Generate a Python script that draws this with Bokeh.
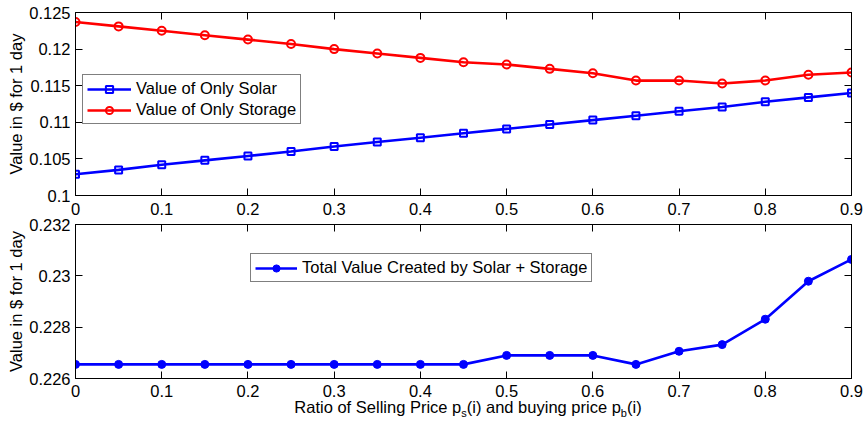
from bokeh.plotting import figure
from bokeh.models import (LinearAxis, FixedTicker, Range1d, Legend, LegendItem,
                          Div, Spacer, CustomLabelingPolicy)
from bokeh.layouts import column, row
from bokeh.embed import file_html
from bokeh.resources import INLINE

# ---------------- data ----------------
ratio = [0.0, 0.05, 0.1, 0.15, 0.2, 0.25, 0.3, 0.35, 0.4, 0.45,
         0.5, 0.55, 0.6, 0.65, 0.7, 0.75, 0.8, 0.85, 0.9]
solar = [0.1029, 0.1035, 0.1042, 0.1048, 0.1054, 0.1060, 0.1067, 0.1073, 0.1079,
         0.1085, 0.1091, 0.1097, 0.1103, 0.1109, 0.1115, 0.1121, 0.1128, 0.1134, 0.1140]
storage = [0.1237, 0.1231, 0.1225, 0.1219, 0.1213, 0.1207, 0.1200, 0.1194, 0.1188,
           0.1182, 0.1179, 0.1173, 0.1167, 0.1157, 0.1157, 0.1153, 0.1157, 0.1165, 0.1168]
total = [0.22655, 0.22655, 0.22655, 0.22655, 0.22655, 0.22655, 0.22655, 0.22655,
         0.22655, 0.22655, 0.2269, 0.2269, 0.2269, 0.22655, 0.22706, 0.22732,
         0.22831, 0.22979, 0.23064]

x_ticks = [0.0, 0.1, 0.2, 0.3, 0.4, 0.5, 0.6, 0.7, 0.8, 0.9]
x_tick_labels = ["0", "0.1", "0.2", "0.3", "0.4", "0.5", "0.6", "0.7", "0.8", "0.9"]
top_y_ticks = [0.1, 0.105, 0.11, 0.115, 0.12, 0.125]
top_y_tick_labels = ["0.1", "0.105", "0.11", "0.115", "0.12", "0.125"]
bot_y_ticks = [0.226, 0.228, 0.23, 0.232]
bot_y_tick_labels = ["0.226", "0.228", "0.23", "0.232"]

solar_label = "Value of Only Solar"
storage_label = "Value of Only Storage"
total_label = "Total Value Created by Solar + Storage"
y_label = "Value in $ for 1 day"
SUB = '<sub style="font-size:11px;vertical-align:-4px;line-height:0">'
x_label_html = ("Ratio of Selling Price p" + SUB + "s</sub>(i) and buying price "
                "p" + SUB + "b</sub>(i)")

FONT = "Liberation Sans"
FS = "16.5px"
BLUE = "#0000ff"
RED = "#ff0000"

HIDE_ALL = CustomLabelingPolicy(code="""
    for (const i of indices) {
        indices.unset(i)
    }
    return indices
""")


def style_axis(ax, ticks, labels, show_labels=True, standoff=5):
    ax.ticker = FixedTicker(ticks=ticks)
    ax.major_tick_in = 7
    ax.major_tick_out = 0
    ax.minor_tick_line_color = None
    ax.axis_line_color = "black"
    ax.major_tick_line_color = "black"
    ax.major_label_text_font = FONT
    ax.major_label_text_color = "black"
    if show_labels:
        ax.major_label_overrides = {t: l for t, l in zip(ticks, labels)}
        ax.major_label_text_font_size = FS
        ax.major_label_standoff = standoff
    else:
        ax.major_label_text_font_size = "0px"
        ax.major_label_standoff = 0
        ax.major_label_policy = HIDE_ALL


def make_fig(frame_h, ylo, yhi, yticks, ylabels, b_top, b_bottom, xstand):
    p = figure(frame_width=776, frame_height=frame_h, output_backend="svg",
               toolbar_location=None, x_range=Range1d(0, 0.9),
               y_range=Range1d(ylo, yhi),
               min_border_left=75, min_border_right=13,
               min_border_top=b_top, min_border_bottom=b_bottom)
    p.grid.visible = False
    p.outline_line_color = "black"
    p.outline_line_width = 1
    p.background_fill_color = "white"
    p.border_fill_color = "white"
    style_axis(p.xaxis[0], x_ticks, x_tick_labels, True, xstand)
    style_axis(p.yaxis[0], yticks, ylabels, True, 5)
    p.yaxis[0].axis_label = y_label
    p.yaxis[0].axis_label_text_font = FONT
    p.yaxis[0].axis_label_text_font_size = FS
    p.yaxis[0].axis_label_text_font_style = "normal"
    p.yaxis[0].axis_label_text_color = "black"
    p.yaxis[0].axis_label_standoff = 1
    top_ax = LinearAxis()
    style_axis(top_ax, x_ticks, x_tick_labels, False)
    p.add_layout(top_ax, "above")
    right_ax = LinearAxis()
    style_axis(right_ax, yticks, ylabels, False)
    p.add_layout(right_ax, "right")
    return p


def style_legend(lg, pad, lh, loc, gw):
    lg.location = loc
    lg.margin = 0
    lg.padding = pad
    lg.spacing = 2
    lg.label_height = lh
    lg.glyph_height = lh
    lg.glyph_width = gw
    lg.label_standoff = 5
    lg.label_text_font = FONT
    lg.label_text_font_size = FS
    lg.label_text_color = "black"
    lg.border_line_color = "black"
    lg.border_line_width = 1
    lg.background_fill_color = "white"
    lg.background_fill_alpha = 1.0


# ---------------- top panel ----------------
p1 = make_fig(183, 0.1, 0.125, top_y_ticks, top_y_tick_labels, 12, 20, 7)
l_sol = p1.line(ratio, solar, line_color=BLUE, line_width=2.6)
m_sol = p1.scatter(ratio, solar, marker="square", size=7, line_color=BLUE,
                   line_width=2, fill_color=None)
l_sto = p1.line(ratio, storage, line_color=RED, line_width=2.6)
m_sto = p1.scatter(ratio, storage, marker="circle", size=8, line_color=RED,
                   line_width=2, fill_color=None)
lg1 = Legend(items=[LegendItem(label=solar_label, renderers=[l_sol, m_sol]),
                    LegendItem(label=storage_label, renderers=[l_sto, m_sto])])
style_legend(lg1, 4, 18, (7, 71), 44)
p1.add_layout(lg1, "center")

# ---------------- bottom panel ----------------
p2 = make_fig(154, 0.226, 0.232, bot_y_ticks, bot_y_tick_labels, 7, 22, 6)
p2.border_fill_alpha = 0.0
l_tot = p2.line(ratio, total, line_color=BLUE, line_width=2.6)
m_tot = p2.scatter(ratio, total, marker="circle", size=8, line_color=BLUE,
                   line_width=1, fill_color=BLUE)
lg2 = Legend(items=[LegendItem(label=total_label, renderers=[l_tot, m_tot])])
style_legend(lg2, 4, 18, (175, 96), 42)
p2.add_layout(lg2, "center")

xlab = Div(text=x_label_html, width=776, height=20,
           styles={"font-family": FONT, "font-size": FS, "text-align": "center",
                   "color": "black", "line-height": "19px",
                   "position": "relative", "top": "-7px"})
layout = column(p1, p2, row(Spacer(width=75), xlab))

open("out.html", "w").write(file_html(layout, INLINE))
